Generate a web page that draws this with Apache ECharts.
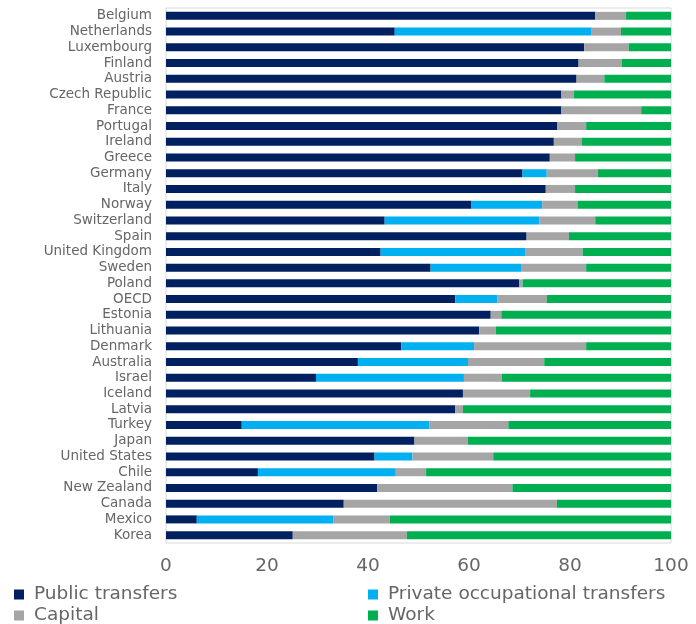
<!DOCTYPE html>
<html>
<head>
<meta charset="utf-8">
<script src="https://cdn.jsdelivr.net/npm/echarts@6/dist/echarts.min.js"></script>
<style>html,body{margin:0;padding:0;background:#fff;}#c{width:696px;height:624px;}</style>
</head>
<body>
<div id="c"></div>
<script>
const categories = ["Belgium","Netherlands","Luxembourg","Finland","Austria","Czech Republic","France","Portugal","Ireland","Greece","Germany","Italy","Norway","Switzerland","Spain","United Kingdom","Sweden","Poland","OECD","Estonia","Lithuania","Denmark","Australia","Israel","Iceland","Latvia","Turkey","Japan","United States","Chile","New Zealand","Canada","Mexico","Korea"];
const publicTransfers = [85.0,45.3,82.8,81.7,81.3,78.3,78.3,77.5,76.8,76.0,70.6,75.2,60.5,43.3,71.4,42.5,52.4,69.9,57.3,64.3,62.0,46.6,38.0,29.7,58.8,57.3,15.0,49.2,41.3,18.2,41.8,35.2,6.1,25.1];
const privateTransfers = [0,39.0,0,0,0,0,0,0,0,0,4.8,0,14.0,30.6,0,28.6,17.9,0,8.3,0,0,14.4,21.8,29.3,0,0,37.2,0,7.5,27.3,0,0,27.0,0];
const capital = [6.1,5.8,8.8,8.6,5.5,2.5,15.8,5.7,5.5,5.0,10.1,5.8,7.0,11.1,8.4,11.4,12.9,0.7,9.8,2.1,3.3,22.2,15.1,7.5,13.3,1.5,15.6,10.6,16.0,6.0,26.8,42.2,11.2,22.6];
const work = [8.9,9.9,8.4,9.7,13.2,19.2,5.9,16.8,17.7,19.0,14.5,19.0,18.5,15.0,20.2,17.5,16.8,29.4,24.6,33.6,34.7,16.8,25.1,33.5,27.9,41.2,32.2,40.2,35.2,48.5,31.4,22.6,55.7,52.3];
const xTicks = [0,20,40,60,80,100];

const font = "'DejaVu Sans', sans-serif";
const textColor = '#666666';
const chart = echarts.init(document.getElementById('c'));
function mk(name, data, color){
  return {name:name, type:'bar', stack:'total', data:data, barWidth:8, itemStyle:{color:color}, animation:false};
}
const legendText = {color:textColor, fontFamily:font, fontSize:18.5, padding:[0,0,0,5]};
function lg(name, left, top){
  return {left:left, top:top, itemWidth:10, itemHeight:10, icon:'rect', padding:0,
    data:[name], textStyle:legendText, selectedMode:false};
}
chart.setOption({
  backgroundColor:'#fff',
  animation:false,
  grid:{left:166, right:25, top:8, bottom:81, show:true, borderColor:'#d9d9d9', borderWidth:1, containLabel:false},
  xAxis:{type:'value', min:xTicks[0], max:xTicks[xTicks.length-1], interval:20,
    axisLine:{show:false}, axisTick:{show:false}, splitLine:{show:false},
    axisLabel:{color:textColor, fontFamily:font, fontSize:18.5, margin:14}},
  yAxis:{type:'category', data:categories, inverse:true,
    axisLine:{show:false}, axisTick:{show:false}, splitLine:{show:false},
    axisLabel:{color:textColor, fontFamily:font, fontSize:13.5, margin:14, interval:0}},
  legend:[
    lg('Public transfers', 14, 585),
    lg('Capital', 14, 606),
    lg('Private occupational transfers', 368, 585),
    lg('Work', 368, 606)
  ],
  series:[
    mk('Public transfers', publicTransfers, '#002060'),
    mk('Private occupational transfers', privateTransfers, '#00B0F0'),
    mk('Capital', capital, '#A5A5A5'),
    mk('Work', work, '#00B050')
  ]
});
</script>
</body>
</html>
